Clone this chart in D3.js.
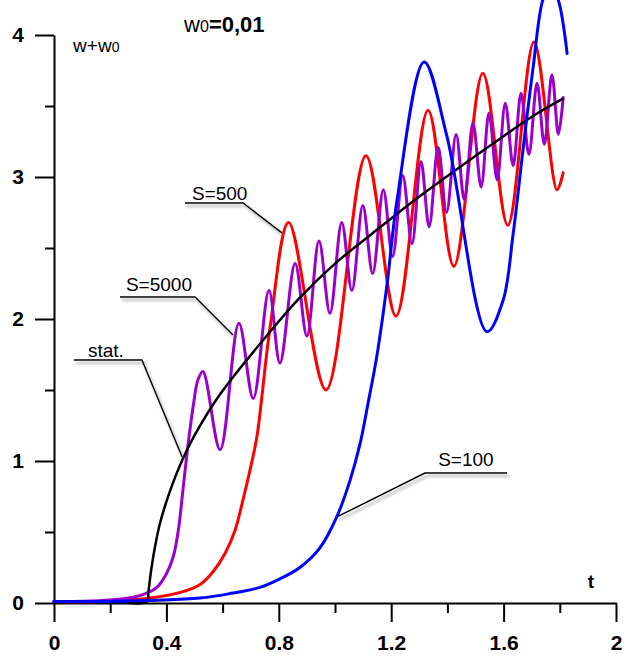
<!DOCTYPE html>
<html lang="en">
<head>
<meta charset="utf-8">
<style type="text/css">
    body { margin: 0; background: #fff; }
    svg { display: block; font-family: "Liberation Sans", Arial, sans-serif; }
    .curve { fill: none; stroke-width: 3px; stroke-linejoin: round; stroke-linecap: round; }
    .leader { fill: none; stroke: #000; stroke-width: 1.5px; }
    .axis path, .axis line { stroke: #000; stroke-width: 2px; }
    .axis text { font-family: "Liberation Sans", Arial, sans-serif; font-weight: bold; fill: #000; }
</style>
</head>
<body>
<svg width="629" height="657"></svg>

<script src="https://d3js.org/d3.v7.min.js"></script>
<script type="text/javascript">
    // values (t, w+w0)
    var xTicks = [0, 0.4, 0.8, 1.2, 1.6, 2];
    var xTickLabels = ["0", "0.4", "0.8", "1.2", "1.6", "2"];
    var xMinor = [0.2, 0.6, 1.0, 1.4, 1.8];
    var yTicks = [0, 1, 2, 3, 4];
    var yTickLabels = ["0", "1", "2", "3", "4"];
    var yMinor = [0.5, 1.5, 2.5, 3.5];

    // stationary solution
    var statT = [0, 0.2, 0.33, 0.336, 0.345, 0.358, 0.377, 0.413, 0.455, 0.5, 0.591, 0.769, 0.875, 1.0, 1.125, 1.278, 1.409, 1.587, 1.705, 1.81];
    var statW = [0.01, 0.01, 0.01, 0.08, 0.22, 0.38, 0.56, 0.79, 1.0, 1.18, 1.47, 1.91, 2.15, 2.39, 2.59, 2.83, 3.02, 3.27, 3.43, 3.55];

    // S=5000
    var s5000T = [0, 0.16, 0.282, 0.318, 0.366, 0.401, 0.425, 0.443, 0.458, 0.475, 0.495, 0.512, 0.530,
        0.591, 0.658, 0.709, 0.765, 0.804, 0.858, 0.900, 0.943, 0.982, 1.024, 1.060, 1.099, 1.134,
        1.172, 1.205, 1.241, 1.274, 1.306, 1.335, 1.367, 1.397, 1.431, 1.460, 1.491, 1.520, 1.548,
        1.577, 1.606, 1.634, 1.662, 1.690, 1.719, 1.745, 1.772, 1.795, 1.812];
    var s5000W = [0.01, 0.015, 0.04, 0.06, 0.11, 0.21, 0.33, 0.52, 0.78, 1.08, 1.38, 1.57, 1.63,
        1.08, 1.97, 1.44, 2.20, 1.69, 2.39, 1.88, 2.55, 2.04, 2.68, 2.20, 2.80, 2.32,
        2.91, 2.44, 3.01, 2.53, 3.11, 2.65, 3.21, 2.75, 3.30, 2.84, 3.38, 2.93, 3.45,
        2.98, 3.52, 3.08, 3.59, 3.16, 3.66, 3.23, 3.72, 3.30, 3.56];

    // S=500
    var s500T = [0, 0.164, 0.342, 0.459, 0.520, 0.566, 0.609, 0.644, 0.673, 0.698, 0.722, 0.769, 0.835,
        0.968, 1.110, 1.217, 1.331, 1.423, 1.526, 1.615, 1.708, 1.790, 1.812];
    var s500W = [0.01, 0.01, 0.035, 0.08, 0.13, 0.22, 0.35, 0.51, 0.73, 0.94, 1.17, 1.94, 2.68,
        1.50, 3.15, 2.02, 3.47, 2.37, 3.73, 2.66, 3.95, 2.91, 3.03];

    // S=100
    var s100T = [0, 0.164, 0.52, 0.637, 0.733, 0.804, 0.875, 0.947, 1.007, 1.053, 1.089, 1.117, 1.149,
        1.185, 1.221, 1.317, 1.399, 1.541, 1.598, 1.634, 1.669, 1.705, 1.740, 1.767, 1.794, 1.826];
    var s100W = [0.01, 0.01, 0.035, 0.07, 0.11, 0.17, 0.25, 0.39, 0.61, 0.86, 1.12, 1.40, 1.74,
        2.24, 2.84, 3.81, 3.28, 1.91, 2.13, 2.60, 3.19, 3.77, 4.25, 4.35, 4.25, 3.87];

    // curve labels with leader lines (anchor in data units)
    var labelNames = ["S=500", "S=5000", "stat.", "S=100"];
    var labelAt = [[0.491, 2.84], [0.256, 2.197], [0.121, 1.732], [1.367, 0.965]];
    var leaderPts = [
        [[0.466, 2.817], [0.673, 2.817], [0.811, 2.606]],
        [[0.235, 2.155], [0.502, 2.155], [0.637, 1.887]],
        [[0.071, 1.711], [0.313, 1.711], [0.456, 1.028]],
        [[1.612, 0.915], [1.320, 0.915], [1.007, 0.606]]
    ];

    var svg = d3.select("svg");

    var x = d3.scaleLinear().domain([0, 2]).range([54, 616]);
    var y = d3.scaleLinear().domain([0, 4]).range([603, 35]);

    var defs = svg.append("defs");
    defs.append("filter")
        .attr("id", "shadow")
        .attr("x", "-20%").attr("y", "-20%")
        .attr("width", "150%").attr("height", "150%")
        .append("feDropShadow")
        .attr("dx", 2).attr("dy", 3)
        .attr("stdDeviation", 1.5)
        .attr("flood-color", "#777")
        .attr("flood-opacity", 0.7);

    // axes: major ticks with labels, minor ticks without
    var gx = svg.append("g")
        .attr("class", "axis")
        .attr("transform", "translate(0," + y(0) + ")")
        .call(d3.axisBottom(x)
            .tickValues(xTicks)
            .tickFormat(function (d, i) { return xTickLabels[i]; })
            .tickSize(19)
            .tickSizeOuter(0)
            .tickPadding(13));
    gx.selectAll("text").style("font-size", "21px");

    svg.append("g")
        .attr("class", "axis")
        .attr("transform", "translate(0," + y(0) + ")")
        .call(d3.axisBottom(x).tickValues(xMinor).tickFormat("").tickSize(10).tickSizeOuter(0))
        .select(".domain").remove();

    var gy = svg.append("g")
        .attr("class", "axis")
        .attr("transform", "translate(" + x(0) + ",0)")
        .call(d3.axisLeft(y)
            .tickValues(yTicks)
            .tickFormat(function (d, i) { return yTickLabels[i]; })
            .tickSize(19)
            .tickSizeOuter(0)
            .tickPadding(11));
    gy.selectAll("text").style("font-size", "21px");

    svg.append("g")
        .attr("class", "axis")
        .attr("transform", "translate(" + x(0) + ",0)")
        .call(d3.axisLeft(y).tickValues(yMinor).tickFormat("").tickSize(9).tickSizeOuter(0))
        .select(".domain").remove();

    // curves
    function zipPts(ts, ws) {
        return ts.map(function (t, i) { return [t, ws[i]]; });
    }

    var line = d3.line()
        .x(function (d) { return x(d[0]); })
        .y(function (d) { return y(d[1]); })
        .curve(d3.curveCatmullRom.alpha(0.5));

    var series = [
        { pts: zipPts(s500T, s500W), color: "#ff0000", width: 3 },
        { pts: zipPts(s5000T, s5000W), color: "#9900cc", width: 3 },
        { pts: zipPts(statT, statW), color: "#000000", width: 2.5 },
        { pts: zipPts(s100T, s100W), color: "#0000ff", width: 3 }
    ];

    svg.selectAll(".curve")
        .data(series)
        .enter()
        .append("path")
        .attr("class", "curve")
        .attr("d", function (d) { return line(d.pts); })
        .style("stroke", function (d) { return d.color; })
        .style("stroke-width", function (d) { return d.width + "px"; });

    // leader lines + labels
    var plainLine = d3.line()
        .x(function (d) { return x(d[0]); })
        .y(function (d) { return y(d[1]); });

    svg.selectAll(".leader")
        .data(leaderPts)
        .enter()
        .append("path")
        .attr("class", "leader")
        .attr("filter", "url(#shadow)")
        .attr("d", plainLine);

    svg.selectAll(".clabel")
        .data(labelNames)
        .enter()
        .append("text")
        .attr("class", "clabel")
        .attr("x", function (d, i) { return x(labelAt[i][0]); })
        .attr("y", function (d, i) { return y(labelAt[i][1]); })
        .style("font-size", "19px")
        .text(function (d) { return d; });

    // axis titles
    svg.append("text")
        .attr("x", x(1.911))
        .attr("y", y(0.106))
        .attr("text-anchor", "middle")
        .style("font-size", "19px")
        .style("font-weight", "bold")
        .text("t");

    var yt = svg.append("text")
        .attr("x", x(0.068))
        .attr("y", y(3.88));
    yt.append("tspan").style("font-size", "19px").text("w+w");
    yt.append("tspan").style("font-size", "14px").text("0");

    var title = svg.append("text")
        .attr("x", x(0.463))
        .attr("y", y(4.02));
    title.append("tspan").style("font-size", "22px").text("w");
    title.append("tspan").style("font-size", "16px").text("0");
    title.append("tspan").style("font-size", "22px").style("font-weight", "bold").text("=0,01");
</script>
</body>
</html>
